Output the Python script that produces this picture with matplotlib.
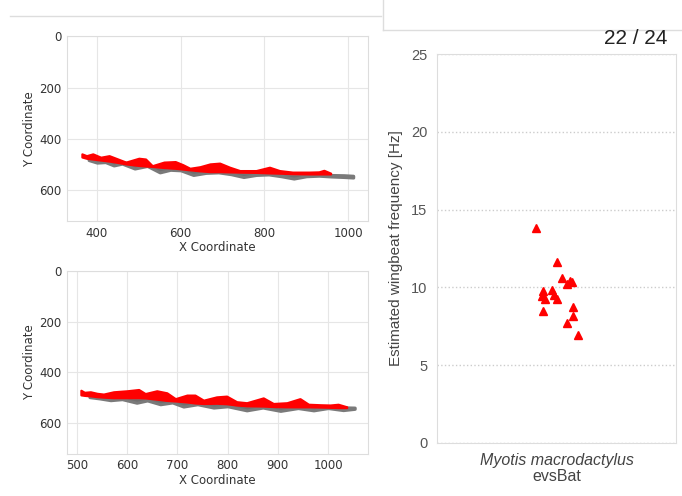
import matplotlib.pyplot as plt
from matplotlib.lines import Line2D

# --- trajectory 1 (top left) ---
red1_x = [364, 375, 390, 409, 429, 445, 469, 500, 516, 532, 560, 587, 605, 622, 646,
          670, 693, 717, 741, 780, 812, 836, 867, 907, 930, 942, 958]
red1_hi = [458, 465, 458, 471, 465, 475, 490, 475, 478, 504, 490, 488, 500, 514, 508,
           497, 494, 510, 523, 523, 510, 523, 529, 529, 528, 522, 533]
red1_lo = [470, 475, 478, 482, 486, 490, 497, 503, 505, 507, 511, 514, 517, 520, 524,
           527, 527, 528, 529, 530, 532, 533, 535, 536, 536, 536, 536]
gray1_x = [380, 400, 420, 440, 460, 490, 520, 550, 575, 600, 630, 660, 690, 720, 750,
           780, 810, 840, 870, 900, 930, 960, 990, 1012]
gray1_hi = [475, 478, 483, 486, 490, 497, 504, 510, 512, 515, 520, 525, 527, 528, 530,
            530, 532, 534, 536, 537, 538, 540, 541, 543]
gray1_lo = [482, 492, 490, 503, 496, 515, 505, 530, 520, 522, 540, 532, 530, 537, 548,
            540, 538, 545, 554, 545, 543, 546, 548, 550]

# --- trajectory 2 (bottom left) ---
red2_x = [508, 515, 527, 540, 553, 573, 600, 623, 636, 659, 679, 696, 719, 735, 752,
          778, 798, 818, 838, 871, 891, 918, 944, 961, 985, 1004, 1020, 1037]
red2_hi = [470, 478, 476, 482, 485, 476, 472, 467, 483, 472, 480, 503, 489, 489, 509,
           496, 493, 515, 519, 500, 522, 519, 503, 525, 527, 528, 525, 535]
red2_lo = [488, 490, 492, 495, 497, 499, 499, 499, 500, 505, 510, 512, 516, 520, 522,
           521, 523, 528, 531, 532, 534, 535, 535, 535, 536, 537, 538, 538]
gray2_x = [525, 545, 567, 590, 619, 640, 666, 690, 712, 740, 772, 800, 838, 870, 905,
           940, 971, 1000, 1030, 1053]
gray2_hi = [488, 490, 494, 496, 499, 500, 504, 509, 514, 519, 521, 524, 530, 532, 534,
            535, 535, 536, 537, 538]
gray2_lo = [497, 502, 509, 505, 519, 510, 525, 518, 534, 525, 538, 533, 549, 538, 551,
            540, 549, 540, 548, 543]

# --- wingbeat frequencies (right) ---
species = "Myotis macrodactylus"
source = "evsBat"
jitter = [-0.086, 0.001, 0.022, 0.056, 0.044, 0.065, -0.056, -0.020, -0.062, -0.048,
          0.001, -0.010, -0.058, 0.068, 0.068, 0.043, 0.091]
freq = [13.8, 11.65, 10.6, 10.43, 10.2, 10.35, 9.74, 9.83, 9.47, 9.25,
        9.25, 9.5, 8.45, 8.76, 8.18, 7.7, 6.95]

fig = plt.figure(figsize=(6.82, 4.96), dpi=100)

# slide frame lines
fig.add_artist(Line2D([10/682, 381/682], [1-16/496, 1-16/496], color="#dddddd", lw=1))
fig.add_artist(Line2D([383/682, 383/682], [1-30/496, 1.0], color="#dddddd", lw=1))
fig.add_artist(Line2D([383/682, 1.0], [1-30/496, 1-30/496], color="#dddddd", lw=1))
fig.text(636/682, 1-39/496, "22 / 24", ha="center", va="center", fontsize=15,
         color="#222222", family="Liberation Sans")


def traj_axes(rect, rx, rhi, rlo, gx, ghi, glo, xlim, xticks):
    ax = fig.add_axes(rect)
    ax.fill_between(gx, ghi, glo, color="#6e6e6e", lw=2.2, edgecolor="#7a7a7a")
    ax.fill_between(rx, rhi, rlo, color="#ff0000", lw=1.6, edgecolor="#ff0000")
    ax.set_xlim(*xlim)
    ax.set_ylim(720, 0)
    ax.set_xticks(xticks)
    ax.set_yticks([0, 200, 400, 600])
    ax.grid(True, color="#e6e6e6", lw=0.8)
    ax.set_axisbelow(True)
    for s in ax.spines.values():
        s.set_color("#dddddd")
    ax.tick_params(length=0, labelsize=8.5, labelcolor="#333333", pad=4)
    ax.set_xlabel("X Coordinate", fontsize=8.5, color="#333333", labelpad=1)
    ax.set_ylabel("Y Coordinate", fontsize=8.5, color="#333333", labelpad=2)
    return ax


traj_axes([0.098, 0.554, 0.442, 0.373], red1_x, red1_hi, red1_lo,
          gray1_x, gray1_hi, gray1_lo, (328, 1048), [400, 600, 800, 1000])
traj_axes([0.098, 0.085, 0.442, 0.369], red2_x, red2_hi, red2_lo,
          gray2_x, gray2_hi, gray2_lo, (480, 1080), [500, 600, 700, 800, 900, 1000])

# right panel
ax3 = fig.add_axes([0.641, 0.107, 0.35, 0.784])
ax3.plot(jitter, freq, linestyle="none", marker="^", color="#ff0000", markersize=6)
ax3.set_xlim(-0.5, 0.5)
ax3.set_ylim(0, 25)
ax3.set_yticks([0, 5, 10, 15, 20, 25])
ax3.set_xticks([0])
ax3.set_xticklabels([""])
ax3.text(0, -0.045, species, transform=ax3.get_xaxis_transform(), ha="center", va="center",
         fontsize=11.5, color="#444444", family="Liberation Sans", style="italic")
ax3.text(0, -0.087, source, transform=ax3.get_xaxis_transform(), ha="center", va="center",
         fontsize=11.5, color="#444444", family="Liberation Sans")
ax3.yaxis.grid(True, color="#cccccc", ls=":", lw=1)
ax3.set_axisbelow(True)
for s in ax3.spines.values():
    s.set_color("#dddddd")
ax3.tick_params(length=0, labelsize=10.5, labelcolor="#555555", pad=7)
for lab in ax3.get_yticklabels():
    lab.set_family("Liberation Sans")
ax3.set_ylabel("Estimated wingbeat frequency [Hz]", fontsize=11, color="#444444",
               family="Liberation Sans", labelpad=6)

fig.savefig("out.png", dpi=100)
